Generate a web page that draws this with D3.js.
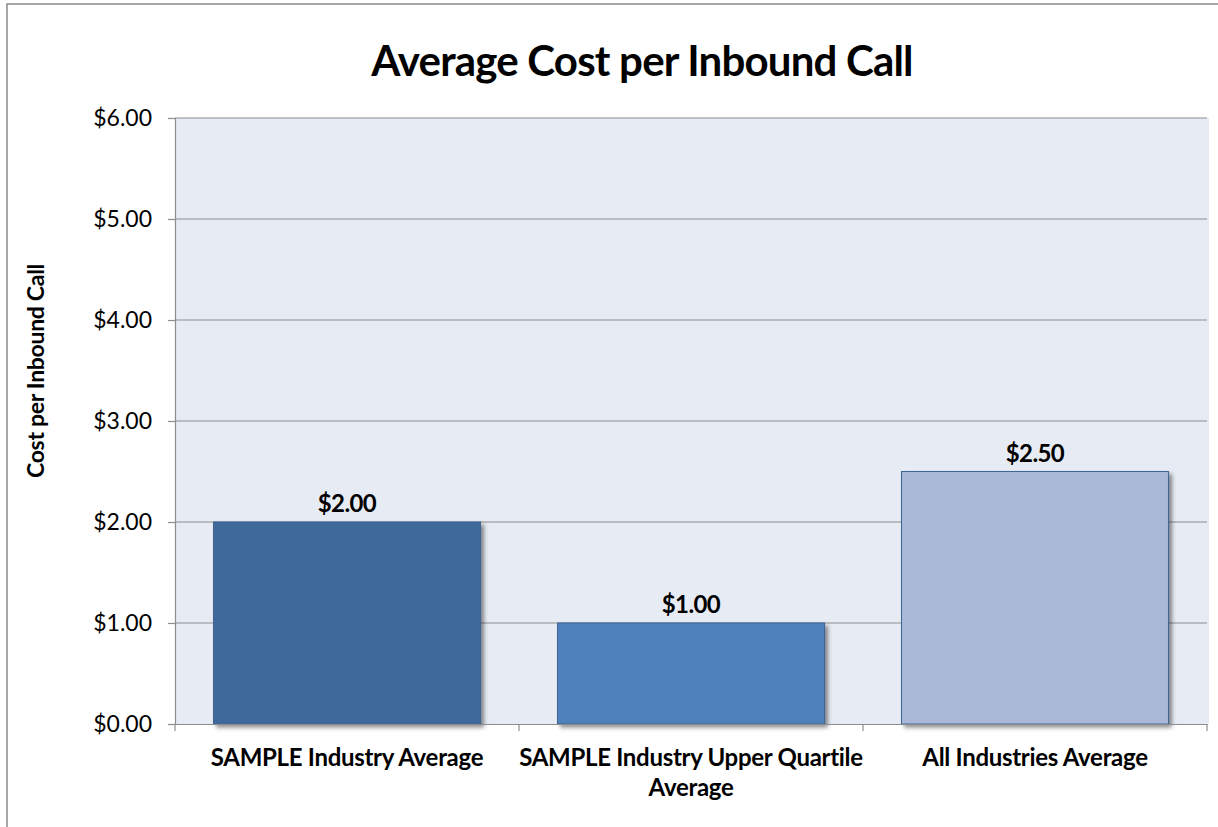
<!DOCTYPE html>
<html>
<head>
<meta charset="utf-8">
<script src="https://cdn.jsdelivr.net/npm/d3@7"></script>
<style>
  body { margin: 0; background: #fff; }
  svg text { font-family: Lato, "Open Sans", sans-serif; fill: #000; }
</style>
</head>
<body>
<svg id="chart" width="1218" height="827"></svg>
<script>
// chart data
var categories = ['SAMPLE Industry Average', 'SAMPLE Industry Upper Quartile Average', 'All Industries Average'];
var labelLines = [['SAMPLE Industry Average'], ['SAMPLE Industry Upper Quartile', 'Average'], ['All Industries Average']];
var costs = [2.00, 1.00, 2.50];
var barColors = ['#41699b', '#4f81bd', '#aab9d7'];
var yTicks = [0, 1, 2, 3, 4, 5, 6];

var svg = d3.select('#chart');

// outer chart border (runs off the right / bottom edges like the original)
svg.append('rect').attr('x', 7).attr('y', 4).attr('width', 1240).attr('height', 860)
    .attr('fill', '#fff').attr('stroke', '#8a8a8a').attr('stroke-width', 1.5);

var plotLeft = 175, plotRight = 1207, plotTop = 118, plotBottom = 724;

var x = d3.scaleBand().domain(categories).range([plotLeft, plotRight]).padding(0);
var y = d3.scaleLinear().domain([0, 6]).range([plotBottom, plotTop]);

var defs = svg.append('defs');
var f = defs.append('filter').attr('id', 'shadow').attr('x', '-10%').attr('y', '-10%').attr('width', '130%').attr('height', '130%');
f.append('feDropShadow').attr('dx', 3).attr('dy', 3).attr('stdDeviation', 2)
    .attr('flood-color', '#000').attr('flood-opacity', 0.45);

// plot background
svg.append('rect').attr('x', plotLeft).attr('y', plotTop).attr('width', plotRight - plotLeft + 2).attr('height', plotBottom - plotTop)
    .attr('fill', '#e7ecf4');

// gridlines
svg.append('g').selectAll('line').data(yTicks.filter(d => d > 0)).join('line')
    .attr('x1', plotLeft).attr('x2', plotRight)
    .attr('y1', d => y(d)).attr('y2', d => y(d))
    .attr('stroke', '#8c8c8c').attr('stroke-width', 1.2);

// y axis
var yAxis = svg.append('g').attr('transform', 'translate(' + plotLeft + ',0)')
    .call(d3.axisLeft(y).tickValues(yTicks).tickSize(7).tickPadding(16).tickFormat(d => '$' + d3.format('.2f')(d)));
yAxis.select('.domain').attr('stroke', '#8c8c8c').attr('stroke-width', 1.2);
yAxis.selectAll('.tick line').attr('stroke', '#8c8c8c').attr('stroke-width', 1.2);
yAxis.selectAll('.tick text').attr('font-size', 23).attr('font-family', 'Lato, sans-serif').attr('fill', '#000');

// bars
var barW = x.bandwidth() * 0.776;
svg.append('g').selectAll('rect').data(categories).join('rect')
    .attr('x', d => x(d) + (x.bandwidth() - barW) / 2)
    .attr('y', (d, i) => y(costs[i]))
    .attr('width', barW)
    .attr('height', (d, i) => y(0) - y(costs[i]))
    .attr('fill', (d, i) => barColors[i])
    .attr('stroke', '#3d6596').attr('stroke-width', 1)
    .attr('filter', 'url(#shadow)');

// x axis
var xAxis = svg.append('g').attr('transform', 'translate(0,' + plotBottom + ')')
    .call(d3.axisBottom(x).tickSize(0).tickFormat(''));
xAxis.select('.domain').attr('stroke', '#8c8c8c').attr('stroke-width', 1.2);
xAxis.selectAll('.tick').remove();
var bounds = [plotLeft].concat(categories.map(d => x(d) + x.bandwidth()));
xAxis.selectAll('line.bt').data(bounds).join('line').attr('class', 'bt')
    .attr('x1', d => d).attr('x2', d => d).attr('y1', 0).attr('y2', 7)
    .attr('stroke', '#8c8c8c').attr('stroke-width', 1.2);

// category labels
var lab = svg.append('g').selectAll('text').data(categories).join('text')
    .attr('x', d => x(d) + x.bandwidth() / 2)
    .attr('y', 766)
    .attr('text-anchor', 'middle')
    .attr('font-size', 24).attr('font-weight', 'bold').attr('letter-spacing', '-0.3px');
lab.each(function (d, i) {
    var t = d3.select(this);
    labelLines[i].forEach(function (line, k) {
        t.append('tspan').attr('x', x(d) + x.bandwidth() / 2).attr('dy', k === 0 ? 0 : 30).text(line);
    });
});

// value labels
svg.append('g').selectAll('text').data(categories).join('text')
    .attr('x', d => x(d) + x.bandwidth() / 2)
    .attr('y', (d, i) => y(costs[i]) - 10)
    .attr('text-anchor', 'middle')
    .attr('font-size', 24).attr('font-weight', 'bold').attr('letter-spacing', '-0.6px')
    .text((d, i) => '$' + d3.format('.2f')(costs[i]));

// title
svg.append('text').attr('x', 642).attr('y', 76).attr('text-anchor', 'middle')
    .attr('font-size', 42).attr('font-weight', 'bold').attr('letter-spacing', '-0.8px')
    .text('Average Cost per Inbound Call');

// y axis title
svg.append('text').attr('transform', 'translate(44,371) rotate(-90)')
    .attr('text-anchor', 'middle')
    .attr('font-size', 23).attr('font-weight', 'bold').attr('letter-spacing', '-0.3px')
    .text('Cost per Inbound Call');
</script>
</body>
</html>
